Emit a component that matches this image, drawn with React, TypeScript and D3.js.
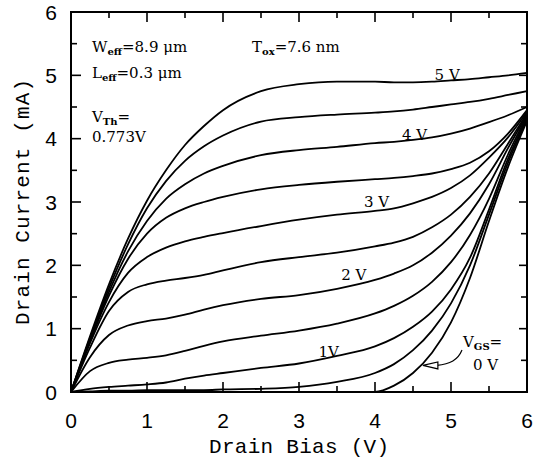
import React, { useRef, useEffect } from "react"
import * as d3 from "d3"

// drain bias (V) sample points shared by every curve
const vds = [0, 0.25, 0.5, 0.75, 1, 1.25, 1.5, 1.75, 2, 2.5, 3, 3.5, 4, 4.25, 4.5, 4.75, 5, 5.25, 5.5, 5.75, 6]

// gate bias of each curve (V)
const vgs = [0, 0.5, 1, 1.5, 2, 2.5, 3, 3.5, 4, 4.5, 5]

// drain current (mA), one list per gate bias
const id00 = [0, 0, 0, 0, 0, 0, 0, 0, 0, 0, 0, 0, 0, 0.1, 0.3, 0.62, 1.1, 1.8, 2.7, 3.55, 4.28]
const id05 = [0, 0.01, 0.02, 0.02, 0.03, 0.03, 0.03, 0.03, 0.04, 0.05, 0.08, 0.16, 0.3, 0.44, 0.66, 0.97, 1.4, 2.0, 2.8, 3.62, 4.3]
const id10 = [0, 0.05, 0.08, 0.1, 0.12, 0.15, 0.21, 0.26, 0.3, 0.38, 0.45, 0.57, 0.72, 0.85, 1.03, 1.27, 1.62, 2.12, 2.88, 3.68, 4.33]
const id15 = [0, 0.33, 0.46, 0.51, 0.54, 0.58, 0.65, 0.73, 0.8, 0.89, 0.97, 1.08, 1.24, 1.36, 1.52, 1.74, 2.05, 2.48, 3.05, 3.75, 4.36]
const id20 = [0, 0.55, 0.9, 1.05, 1.12, 1.16, 1.22, 1.3, 1.37, 1.47, 1.53, 1.63, 1.77, 1.87, 2.0, 2.2, 2.47, 2.82, 3.28, 3.85, 4.38]
const id25 = [0, 0.7, 1.28, 1.58, 1.7, 1.76, 1.8, 1.85, 1.92, 2.05, 2.13, 2.2, 2.3, 2.36, 2.45, 2.6, 2.8, 3.08, 3.45, 3.92, 4.4]
const id30 = [0, 0.77, 1.42, 1.88, 2.13, 2.28, 2.38, 2.45, 2.51, 2.62, 2.72, 2.8, 2.86, 2.9, 2.98, 3.08, 3.22, 3.42, 3.7, 4.02, 4.42]
const id35 = [0, 0.8, 1.52, 2.1, 2.5, 2.75, 2.9, 3.0, 3.08, 3.2, 3.27, 3.32, 3.36, 3.38, 3.41, 3.45, 3.52, 3.62, 3.8, 4.08, 4.45]
const id40 = [0, 0.82, 1.58, 2.22, 2.7, 3.05, 3.28, 3.45, 3.57, 3.74, 3.82, 3.87, 3.93, 3.95, 3.98, 4.02, 4.08, 4.16, 4.26, 4.37, 4.5]
const id45 = [0, 0.85, 1.64, 2.33, 2.9, 3.33, 3.65, 3.88, 4.05, 4.27, 4.34, 4.38, 4.41, 4.43, 4.46, 4.5, 4.54, 4.58, 4.63, 4.69, 4.75]
const id50 = [0, 0.88, 1.7, 2.42, 3.02, 3.5, 3.9, 4.2, 4.45, 4.75, 4.86, 4.9, 4.9, 4.89, 4.89, 4.9, 4.92, 4.94, 4.97, 5.0, 5.04]

const currents = [id00, id05, id10, id15, id20, id25, id30, id35, id40, id45, id50]

const xTicks = [0, 1, 2, 3, 4, 5, 6]
const yTicks = [0, 1, 2, 3, 4, 5, 6]
const curveLabels = ["1V", "2 V", "3 V", "4 V", "5 V"]

const W = 533
const H = 460

const Chart = () => {
    const ref = useRef(null)

    useEffect(() => {
        const svg = d3.select(ref.current)
        svg.selectAll("*").remove()

        const x = d3.scaleLinear().domain([0, 6]).range([71, 527])
        const y = d3.scaleLinear().domain([0, 6]).range([392, 12])
        const serif = "'DejaVu Serif', serif"
        const mono = "'Liberation Mono', monospace"
        const sans = "'Liberation Sans', Arial, sans-serif"

        svg.append("rect").attr("width", W).attr("height", H).attr("fill", "white")

        // curves
        const line = d3.line()
            .x(d => x(d[0]))
            .y(d => y(d[1]))
            .curve(d3.curveMonotoneX)

        svg.append("g")
            .selectAll("path")
            .data(currents)
            .enter()
            .append("path")
            .attr("d", d => line(d.map((v, i) => [vds[i], v])))
            .attr("fill", "none")
            .attr("stroke", "#000")
            .attr("stroke-width", 1.8)

        // frame
        svg.append("rect")
            .attr("x", x(0)).attr("y", y(6))
            .attr("width", x(6) - x(0)).attr("height", y(0) - y(6))
            .attr("fill", "none").attr("stroke", "#000").attr("stroke-width", 2)

        // ticks on all four sides, pointing in
        const halves = d3.range(0, 6.01, 0.5)
        const tg = svg.append("g").attr("stroke", "#000").attr("stroke-width", 1.6)
        halves.forEach(t => {
            const major = Math.abs(t - Math.round(t)) < 1e-6
            const L = major ? 10 : 6
            tg.append("line").attr("x1", x(t)).attr("x2", x(t)).attr("y1", y(0)).attr("y2", y(0) - L)
            tg.append("line").attr("x1", x(t)).attr("x2", x(t)).attr("y1", y(6)).attr("y2", y(6) + L)
            tg.append("line").attr("y1", y(t)).attr("y2", y(t)).attr("x1", x(0)).attr("x2", x(0) + L)
            tg.append("line").attr("y1", y(t)).attr("y2", y(t)).attr("x1", x(6)).attr("x2", x(6) - (major ? 8 : 6))
        })

        // tick labels
        svg.append("g")
            .selectAll("text")
            .data(xTicks)
            .enter()
            .append("text")
            .attr("x", d => x(d))
            .attr("y", 428)
            .attr("text-anchor", "middle")
            .attr("font-family", sans)
            .attr("font-size", 21)
            .text(d => d)

        svg.append("g")
            .selectAll("text")
            .data(yTicks)
            .enter()
            .append("text")
            .attr("x", 57)
            .attr("y", d => y(d) + 7.5)
            .attr("text-anchor", "end")
            .attr("font-family", sans)
            .attr("font-size", 21)
            .text(d => d)

        // axis titles
        svg.append("text")
            .attr("x", (x(0) + x(6)) / 2)
            .attr("y", 453)
            .attr("text-anchor", "middle")
            .attr("font-family", mono)
            .attr("font-size", 21)
            .attr("textLength", 180)
            .text("Drain Bias (V)")

        svg.append("text")
            .attr("transform", `translate(29,${(y(0) + y(6)) / 2}) rotate(-90)`)
            .attr("text-anchor", "middle")
            .attr("font-family", mono)
            .attr("font-size", 21)
            .attr("textLength", 246)
            .text("Drain Current (mA)")

        // curve labels
        const labelPos = [[3.39, 0.55], [3.72, 1.77], [4.02, 2.92], [4.52, 3.98], [4.95, 4.93]]
        svg.append("g")
            .selectAll("text")
            .data(curveLabels)
            .enter()
            .append("text")
            .attr("x", (d, i) => x(labelPos[i][0]))
            .attr("y", (d, i) => y(labelPos[i][1]))
            .attr("text-anchor", "middle")
            .attr("font-family", serif)
            .attr("font-size", 15)
            .text(d => d)

        // device parameters
        const note = (px, py, main, sub, rest) => {
            const t = svg.append("text")
                .attr("x", px).attr("y", py)
                .attr("font-family", serif)
                .attr("font-size", 15)
            t.append("tspan").text(main)
            if (sub) {
                t.append("tspan").attr("dy", 3).attr("font-size", 10).attr("font-weight", "bold").text(sub)
                t.append("tspan").attr("dy", -3).text(rest)
            }
            return t
        }
        note(92, 52, "W", "eff", "=8.9 \u03bcm")
        note(92, 78, "L", "eff", "=0.3 \u03bcm")
        note(252, 52, "T", "ox", "=7.6 nm")
        note(92, 122, "V", "Th", "=")
        note(92, 142, "0.773V", null, null)

        // V_GS = 0 V call-out with arrow
        note(463, 347, "V", "GS", "=")
        note(473, 370, "0 V", null, null)

        const tipX = x(4.63)
        const tipY = y(0.42)
        svg.append("path")
            .attr("d", `M462,350 C458,360 450,364 ${tipX + 14},${tipY}`)
            .attr("fill", "none").attr("stroke", "#000").attr("stroke-width", 1.2)
        svg.append("path")
            .attr("d", `M${tipX},${tipY} L${tipX + 15},${tipY - 3.5} L${tipX + 15},${tipY + 3.5} Z`)
            .attr("fill", "white").attr("stroke", "#000").attr("stroke-width", 1.2)
    }, [])

    return (
        <svg ref={ref} width={W} height={H} style={{ position: "absolute", left: 0, top: 0 }}>
        </svg>
    )
}

export default function App() {
    return <Chart />
}
